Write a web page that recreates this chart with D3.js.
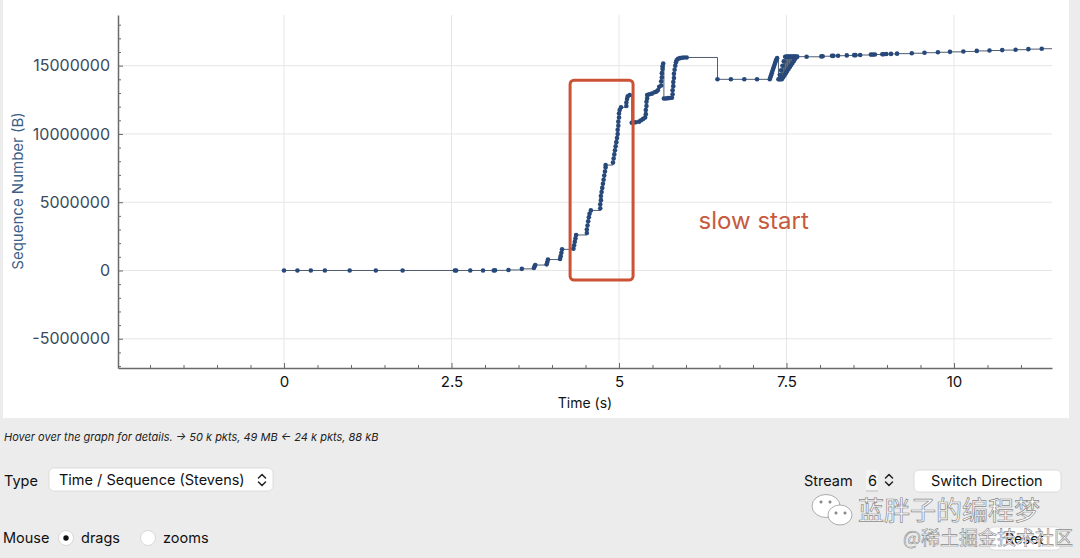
<!DOCTYPE html>
<html>
<head>
<meta charset="utf-8">
<script src="https://cdn.jsdelivr.net/npm/d3@7"></script>
<style>
body { margin: 0; background: #ececec; }
svg { display: block; font-family: Inter, "Liberation Sans", sans-serif; }
</style>
</head>
<body>
<svg id="chart" width="1080" height="558"></svg>
<script>
// packet times (s) and sequence numbers (millions of bytes)
var times = [
  0.00, 0.20, 0.40, 0.61, 0.98, 1.37, 1.77, 2.55, 2.57, 2.78, 2.97, 3.13, 3.15, 3.35, 3.55,
  3.73, 3.74, 3.75, 3.92, 3.93, 3.94, 4.12, 4.13, 4.14, 4.15, 4.32, 4.33, 4.34, 4.35, 4.36,
  4.52, 4.52, 4.53, 4.54, 4.55, 4.56, 4.58, 4.72, 4.72, 4.73, 4.73, 4.74, 4.75, 4.76, 4.77,
  4.78, 4.79, 4.80, 4.80, 4.91, 4.92, 4.93, 4.94, 4.95, 4.96, 4.97, 4.98, 4.98, 4.99, 4.99,
  5.00, 5.00, 5.01, 5.03, 5.11, 5.11, 5.12, 5.13, 5.16, 5.19, 5.22, 5.25, 5.30, 5.33, 5.36,
  5.39, 5.40, 5.40, 5.41, 5.41, 5.42, 5.42, 5.45, 5.49, 5.53, 5.56, 5.58, 5.60, 5.63, 5.63,
  5.64, 5.64, 5.65, 5.65, 5.66, 5.67, 5.70, 5.73, 5.76, 5.79, 5.80, 5.80, 5.81, 5.81, 5.82,
  5.82, 5.83, 5.84, 5.85, 5.86, 5.88, 5.91, 5.94, 5.97, 6.01, 6.47, 6.67, 6.87, 7.06, 7.25,
  7.26, 7.27, 7.28, 7.29, 7.30, 7.31, 7.32, 7.33, 7.34, 7.35, 7.36,
  7.38, 7.39, 7.40, 7.41, 7.42, 7.43, 7.44, 7.45, 7.46, 7.47, 7.48, 7.49, 7.50, 7.51, 7.52,
  7.53, 7.54, 7.55, 7.56, 7.57, 7.58, 7.59, 7.60, 7.61, 7.62, 7.63, 7.64, 7.65, 7.66,
  7.80, 8.02, 8.04, 8.18,
  8.20, 8.27, 8.40, 8.51, 8.53, 8.60, 8.76, 8.79, 8.82, 8.93, 8.95, 8.99, 9.06, 9.15, 9.37,
  9.56, 9.76, 9.94, 10.14, 10.34, 10.53, 10.72, 10.92, 11.11, 11.31, 11.60
];
var seqM = [
  0, 0, 0, 0, 0, 0, 0, 0, 0, 0, 0, 0, 0.01, 0.04, 0.12,
  0.18, 0.30, 0.40, 0.45, 0.62, 0.80, 0.85, 1.05, 1.30, 1.55, 1.60, 1.85, 2.10, 2.35, 2.60,
  2.75, 3.00, 3.30, 3.60, 3.90, 4.15, 4.40, 4.55, 4.85, 5.15, 5.45, 5.75, 6.05, 6.35, 6.65,
  6.95, 7.25, 7.55, 7.72, 7.90, 8.20, 8.50, 8.80, 9.10, 9.40, 9.70, 10.00, 10.30, 10.60, 10.90,
  11.20, 11.50, 11.75, 11.95, 12.05, 12.30, 12.55, 12.75, 12.85, 10.82, 10.84, 10.86, 10.90, 11.00, 11.10,
  11.20, 11.45, 11.75, 12.05, 12.35, 12.60, 12.85, 12.90, 12.95, 13.05, 13.10, 13.20, 13.45, 13.55, 13.85,
  14.15, 14.45, 14.75, 14.95, 15.15, 12.60, 12.60, 12.62, 12.63, 12.65, 12.90, 13.20, 13.50, 13.80, 14.10,
  14.40, 14.70, 15.00, 15.25, 15.40, 15.50, 15.55, 15.58, 15.60, 15.60, 14.00, 14.00, 14.00, 14.00, 14.00,
  14.15, 14.30, 14.45, 14.60, 14.75, 14.90, 15.05, 15.20, 15.35, 15.45, 15.55,
  14.00, 14.00, 14.33, 14.00, 14.66, 14.00, 14.99, 14.15, 15.32, 14.30, 15.65, 14.45, 15.66, 14.60, 15.66,
  14.75, 15.66, 14.90, 15.66, 15.05, 15.66, 15.20, 15.66, 15.35, 15.66, 15.50, 15.66, 15.62, 15.66,
  15.65, 15.68, 15.69, 15.72,
  15.72, 15.73, 15.75, 15.77, 15.77, 15.78, 15.81, 15.81, 15.82, 15.84, 15.84, 15.85, 15.86, 15.88, 15.91,
  15.95, 15.98, 16.01, 16.04, 16.08, 16.11, 16.14, 16.17, 16.21, 16.24, 16.28
];
var xMajor = [0, 2.5, 5, 7.5, 10];
var xMinor = [-2, -1.5, -1, -0.5, 0.5, 1, 1.5, 2, 3, 3.5, 4, 4.5, 5.5, 6, 6.5, 7, 8, 8.5, 9, 9.5, 10.5, 11];
var yMajorM = [-5, 0, 5, 10, 15];
var yMinorM = [-7, -6, -4, -3, -2, -1, 1, 2, 3, 4, 6, 7, 8, 9, 11, 12, 13, 14, 16, 17, 18];
// annotation box (time, millions) and its label
var boxT = [4.27, 5.21];
var boxM = [-0.70, 13.94];
var noteText = "slow start";
var noteAt = [7.01, 3.62];

var data = times.map(function(t, i) { return {t: t, v: seqM[i] * 1e6}; });

var svg = d3.select("#chart");
var pLeft = 118, pRight = 1052, pTop = 15, pBottom = 368;

var x = d3.scaleLinear().domain([-2.478, 11.463]).range([pLeft, pRight]);
var y = d3.scaleLinear().domain([-7.14e6, 18.71e6]).range([pBottom, pTop]);

// white plot panel
svg.append("rect")
    .attr("x", 3).attr("y", 0)
    .attr("width", 1066).attr("height", 418)
    .attr("fill", "#fff");

svg.append("clipPath").attr("id", "clip")
  .append("rect")
    .attr("x", pLeft).attr("y", pTop)
    .attr("width", pRight - pLeft).attr("height", pBottom - pTop);

// grid
svg.append("g").selectAll("line")
    .data(xMajor).enter().append("line")
    .attr("x1", function(d) { return x(d); })
    .attr("x2", function(d) { return x(d); })
    .attr("y1", pTop).attr("y2", pBottom)
    .attr("stroke", "#e6e6e6");
svg.append("g").selectAll("line")
    .data(yMajorM).enter().append("line")
    .attr("x1", pLeft).attr("x2", pRight)
    .attr("y1", function(d) { return y(d * 1e6); })
    .attr("y2", function(d) { return y(d * 1e6); })
    .attr("stroke", "#e6e6e6");

// axes
var yAxis = svg.append("g")
    .attr("transform", "translate(" + pLeft + ",0)")
    .call(d3.axisLeft(y)
        .tickValues(yMajorM.map(function(d) { return d * 1e6; }))
        .tickFormat(function(d) { return String(d); })
        .tickSizeInner(-5).tickSizeOuter(0).tickPadding(8));
svg.append("g")
    .attr("transform", "translate(" + pLeft + ",0)")
    .call(d3.axisLeft(y)
        .tickValues(yMinorM.map(function(d) { return d * 1e6; }))
        .tickFormat("").tickSizeInner(-3).tickSizeOuter(0))
    .select(".domain").remove();

var xAxis = svg.append("g")
    .attr("transform", "translate(0," + pBottom + ")")
    .call(d3.axisBottom(x)
        .tickValues(xMajor)
        .tickFormat(function(d) { return String(d); })
        .tickSizeInner(-5).tickSizeOuter(0).tickPadding(8));
svg.append("g")
    .attr("transform", "translate(0," + pBottom + ")")
    .call(d3.axisBottom(x)
        .tickValues(xMinor)
        .tickFormat("").tickSizeInner(-3).tickSizeOuter(0))
    .select(".domain").remove();

svg.selectAll(".domain").attr("stroke", "#6a6a6a").attr("stroke-width", 1.5);
svg.selectAll(".tick line").attr("stroke", "#6a6a6a");
yAxis.selectAll("text")
    .attr("font-size", 16)
    .attr("font-family", "Inter, sans-serif")
    .attr("fill", "#3b4a5c");
xAxis.selectAll("text")
    .attr("font-size", 15)
    .attr("font-family", "Inter, sans-serif")
    .attr("fill", "#111");

svg.append("text")
    .attr("transform", "translate(23,191)rotate(-90)")
    .attr("text-anchor", "middle")
    .attr("font-size", 15)
    .attr("fill", "#3e5f85")
    .text("Sequence Number (B)");

svg.append("text")
    .attr("x", 585).attr("y", 408)
    .attr("text-anchor", "middle")
    .attr("font-size", 14)
    .attr("fill", "#111")
    .text("Time (s)");

// the Stevens trace
var plot = svg.append("g").attr("clip-path", "url(#clip)");

var line = d3.line()
    .curve(d3.curveStepAfter)
    .x(function(d) { return x(d.t); })
    .y(function(d) { return y(d.v); });

plot.append("path")
    .datum(data)
    .attr("fill", "none")
    .attr("stroke", "#4f5d70")
    .attr("stroke-width", 1)
    .attr("d", line);

plot.selectAll("circle")
    .data(data).enter().append("circle")
    .attr("cx", function(d) { return x(d.t); })
    .attr("cy", function(d) { return y(d.v); })
    .attr("r", 2.3)
    .attr("fill", "#27487a");

// annotation
svg.append("rect")
    .attr("x", x(boxT[0])).attr("y", y(boxM[1] * 1e6))
    .attr("width", x(boxT[1]) - x(boxT[0]))
    .attr("height", y(boxM[0] * 1e6) - y(boxM[1] * 1e6))
    .attr("rx", 4)
    .attr("fill", "none")
    .attr("stroke", "#cc5235")
    .attr("stroke-width", 3);

svg.append("text")
    .attr("x", x(noteAt[0])).attr("y", y(noteAt[1] * 1e6))
    .attr("dy", "0.35em")
    .attr("text-anchor", "middle")
    .attr("font-size", 24)
    .attr("fill", "#c65a3e")
    .text(noteText);

// controls below the graph
svg.append("text")
    .attr("x", 4).attr("y", 441)
    .attr("font-size", 11)
    .attr("font-style", "italic")
    .attr("fill", "#222")
    .text("Hover over the graph for details. \u2192 50 k pkts, 49 MB \u2190 24 k pkts, 88 kB");

svg.append("text")
    .attr("x", 4).attr("y", 486)
    .attr("font-size", 14.5).attr("fill", "#111")
    .text("Type");

function button(x0, y0, w, h, label, cx) {
    svg.append("rect")
        .attr("x", x0).attr("y", y0).attr("width", w).attr("height", h)
        .attr("rx", 5)
        .attr("fill", "#fff")
        .attr("stroke", "#d6d6d6").attr("stroke-width", 0.8);
    return svg.append("text")
        .attr("x", cx).attr("y", y0 + h / 2)
        .attr("dy", "0.35em")
        .attr("font-size", 14.5).attr("fill", "#111")
        .text(label);
}

button(49, 468, 224, 23, "Time / Sequence (Stevens)", 59);
function updown(cx, cy) {
    svg.append("path")
        .attr("d", "M" + (cx - 3.5) + "," + (cy - 2) + "L" + cx + "," + (cy - 5.5) + "L" + (cx + 3.5) + "," + (cy - 2) +
                   "M" + (cx - 3.5) + "," + (cy + 2) + "L" + cx + "," + (cy + 5.5) + "L" + (cx + 3.5) + "," + (cy + 2))
        .attr("fill", "none").attr("stroke", "#222").attr("stroke-width", 1.5)
        .attr("stroke-linecap", "round").attr("stroke-linejoin", "round");
}
updown(262, 480);

svg.append("text")
    .attr("x", 3).attr("y", 543)
    .attr("font-size", 14.5).attr("fill", "#111")
    .text("Mouse");
svg.append("circle").attr("cx", 66).attr("cy", 538).attr("r", 7.5)
    .attr("fill", "#fff").attr("stroke", "#d8d8d8");
svg.append("circle").attr("cx", 66).attr("cy", 538).attr("r", 2.7).attr("fill", "#111");
svg.append("text")
    .attr("x", 81).attr("y", 543)
    .attr("font-size", 14.5).attr("fill", "#111")
    .text("drags");
svg.append("circle").attr("cx", 148).attr("cy", 538).attr("r", 7.5)
    .attr("fill", "#fff").attr("stroke", "#d8d8d8");
svg.append("text")
    .attr("x", 163).attr("y", 543)
    .attr("font-size", 14.5).attr("fill", "#111")
    .text("zooms");

svg.append("text")
    .attr("x", 804).attr("y", 486)
    .attr("font-size", 14.5).attr("fill", "#111")
    .text("Stream");
svg.append("rect").attr("x", 866).attr("y", 470).attr("width", 12).attr("height", 21)
    .attr("fill", "#f4f4f4");
svg.append("line").attr("x1", 866).attr("x2", 878).attr("y1", 491).attr("y2", 491)
    .attr("stroke", "#bbb");
svg.append("text")
    .attr("x", 868).attr("y", 486)
    .attr("font-size", 14.5).attr("fill", "#111")
    .text("6");
updown(889, 480);

button(914, 470, 147, 22, "Switch Direction", 931);
button(989, 527, 72, 23, "Reset", 1005);

// watermark
var wm = svg.append("g").attr("fill", "#fff").attr("stroke", "#8a8a8a").attr("stroke-width", 0.7);
wm.append("ellipse").attr("cx", 826).attr("cy", 506).attr("rx", 14).attr("ry", 11.5);
wm.append("ellipse").attr("cx", 840).attr("cy", 515).attr("rx", 12).attr("ry", 10);
wm.append("circle").attr("cx", 836).attr("cy", 513).attr("r", 1.2).attr("fill", "#8a8a8a");
wm.append("circle").attr("cx", 845).attr("cy", 513).attr("r", 1.2).attr("fill", "#8a8a8a");
wm.append("circle").attr("cx", 821).attr("cy", 502).attr("r", 1.2).attr("fill", "#8a8a8a");
wm.append("circle").attr("cx", 830).attr("cy", 502).attr("r", 1.2).attr("fill", "#8a8a8a");
wm.append("text")
    .attr("x", 858).attr("y", 520)
    .attr("font-family", "'Noto Sans CJK SC', sans-serif")
    .attr("font-size", 26)
    .text("蓝胖子的编程梦");
wm.append("text")
    .attr("x", 903).attr("y", 545)
    .attr("font-family", "'Noto Sans CJK SC', sans-serif")
    .attr("font-size", 19)
    .attr("stroke-width", 0.6)
    .text("@稀土掘金技术社区");
</script>
</body>
</html>
